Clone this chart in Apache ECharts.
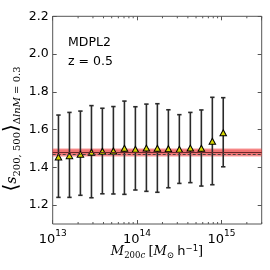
<!DOCTYPE html>
<html>
<head>
<meta charset="utf-8">
<script src="https://cdn.jsdelivr.net/npm/echarts@6/dist/echarts.min.js"></script>
<style>html,body{margin:0;padding:0;background:#fff}#c{width:270px;height:270px}</style>
</head>
<body>
<div id="c"></div>
<script>
// ---- data ----
const massBins = [1.17e13, 1.58e13, 2.13e13, 2.88e13, 3.88e13, 5.24e13, 7.08e13, 9.55e13,
                  1.29e14, 1.74e14, 2.35e14, 3.17e14, 4.28e14, 5.78e14, 7.80e14, 1.05e15];
const sMean = [1.455, 1.462, 1.469, 1.480, 1.485, 1.487, 1.501, 1.496,
               1.502, 1.501, 1.499, 1.496, 1.502, 1.501, 1.538, 1.583];
const sHigh = [1.677, 1.691, 1.698, 1.727, 1.713, 1.722, 1.751, 1.721,
               1.735, 1.737, 1.705, 1.679, 1.691, 1.704, 1.771, 1.769];
const sLow  = [1.241, 1.241, 1.252, 1.239, 1.260, 1.259, 1.257, 1.280,
               1.273, 1.268, 1.292, 1.315, 1.319, 1.301, 1.308, 1.403];
const bandOuter = [1.457, 1.500];
const bandInner = [1.464, 1.494];
const meanLine = 1.481;
const dashedLine = 1.468;
const yTicks = [1.2, 1.4, 1.6, 1.8, 2.0, 2.2];
const xMajorTicks = [1e13, 1e14, 1e15];
const xMin = 1e13, xMax = 3e15, yMin = 1.1, yMax = 2.2;
const minorTicks = [2e13,3e13,4e13,5e13,6e13,7e13,8e13,9e13,
                    2e14,3e14,4e14,5e14,6e14,7e14,8e14,9e14,
                    2e15,3e15];

const chart = echarts.init(document.getElementById('c'), null, {renderer: 'canvas'});
const frame = '#555';
const sans = 'DejaVu Sans';
const serif = 'DejaVu Serif';

const errData = massBins.map((m, i) => [m, sLow[i], sHigh[i]]);
const ptData = massBins.map((m, i) => [m, sMean[i]]);

const option = {
  animation: false,
  grid: {left: 52.7, top: 16.3, right: 8.3, bottom: 46, show: true, borderColor: frame, borderWidth: 1,
         backgroundColor: 'transparent', containLabel: false, outerBoundsMode: 'none'},
  xAxis: [
    {type: 'log', logBase: 10, min: xMin, max: xMax, position: 'bottom',
     axisLine: {show: false}, splitLine: {show: false},
     axisTick: {inside: true, length: 4, lineStyle: {color: frame}},
     axisLabel: {margin: 5, color: '#000', fontFamily: sans, showMaxLabel: false, showMinLabel: true,
       formatter: v => {
         const e = Math.log10(v);
         if (Math.abs(e - Math.round(e)) > 1e-6) return '';
         return '{b|10}{s|' + Math.round(e) + '}';
       },
       rich: {b: {fontSize: 13, fontFamily: sans, lineHeight: 17, verticalAlign: 'bottom', color: '#000'},
              s: {fontSize: 9, fontFamily: sans, lineHeight: 10, verticalAlign: 'top', color: '#000'}}}},
    {type: 'log', logBase: 10, min: xMin, max: xMax, position: 'top',
     axisLine: {show: false}, splitLine: {show: false}, axisLabel: {show: false},
     axisTick: {inside: true, length: 4, lineStyle: {color: frame}}}
  ],
  yAxis: [
    {type: 'value', min: yMin, max: yMax, position: 'left',
     axisLine: {show: false}, splitLine: {show: false},
     axisTick: {inside: true, length: 4, customValues: yTicks, lineStyle: {color: frame}},
     axisLabel: {customValues: yTicks, margin: 4, color: '#000', fontFamily: sans, fontSize: 12.5,
       formatter: v => v.toFixed(1)}},
    {type: 'value', min: yMin, max: yMax, position: 'right',
     axisLine: {show: false}, splitLine: {show: false}, axisLabel: {show: false},
     axisTick: {inside: true, length: 4, customValues: yTicks, lineStyle: {color: frame}}}
  ],
  series: [
    { // minor log ticks
      type: 'custom', silent: true, z: 5,
      data: minorTicks.map(v => [v]),
      renderItem: (params, api) => {
        const v = api.value(0);
        const b = api.coord([v, yMin]);
        const t = api.coord([v, yMax]);
        return {type: 'group', children: [
          {type: 'line', shape: {x1: b[0], y1: b[1], x2: b[0], y2: b[1] - 2}, style: {stroke: frame, lineWidth: 1}},
          {type: 'line', shape: {x1: t[0], y1: t[1], x2: t[0], y2: t[1] + 2}, style: {stroke: frame, lineWidth: 1}}
        ]};
      }
    },
    { // error bars
      type: 'custom', silent: true, z: 2,
      data: errData,
      renderItem: (params, api) => {
        const x = api.value(0);
        const lo = api.coord([x, api.value(1)]);
        const hi = api.coord([x, api.value(2)]);
        const cw = 2.2;
        const st = {stroke: '#2a2a2a', lineWidth: 1.6};
        return {type: 'group', children: [
          {type: 'line', shape: {x1: lo[0], y1: lo[1], x2: hi[0], y2: hi[1]}, style: st},
          {type: 'line', shape: {x1: lo[0] - cw, y1: lo[1], x2: lo[0] + cw, y2: lo[1]}, style: st},
          {type: 'line', shape: {x1: hi[0] - cw, y1: hi[1], x2: hi[0] + cw, y2: hi[1]}, style: st}
        ]};
      }
    },
    { // band + lines
      type: 'line', data: [], z: 3, silent: true,
      markArea: {silent: true, data: [
        [{yAxis: bandOuter[0], itemStyle: {color: 'rgba(240,70,70,0.55)'}}, {yAxis: bandOuter[1]}],
        [{yAxis: bandInner[0], itemStyle: {color: 'rgba(235,50,50,0.35)'}}, {yAxis: bandInner[1]}]
      ]},
      markLine: {silent: true, symbol: 'none', label: {show: false}, data: [
        {yAxis: meanLine, lineStyle: {color: '#6a2a2a', width: 1.2, type: 'solid'}},
        {yAxis: dashedLine, lineStyle: {color: '#444', width: 1, type: [3, 2]}}
      ]}
    },
    { // points
      type: 'scatter', z: 4, data: ptData, symbol: 'triangle', symbolSize: [6.5, 6],
      itemStyle: {color: '#d6d600', borderColor: '#000', borderWidth: 1, opacity: 1}
    }
  ],
  graphic: [
    {type: 'text', left: 68, top: 36, style: {text: 'MDPL2', fontFamily: sans, fontSize: 12.5, fill: '#000'}},
    {type: 'text', left: 68, top: 55, style: {text: 'z = 0.5', fontFamily: sans, fontSize: 12.5, fill: '#000'}},
    {type: 'text', x: 157, y: 252,
     style: {text: '{mi|M}{sub|200}{subi|c} {t|[}{mi|M}{sub|⊙} {h|h}{sup|−1}{t|]}',
       align: 'center', verticalAlign: 'middle',
       rich: {
         mi: {fontFamily: serif, fontStyle: 'italic', fontSize: 13, lineHeight: 16, verticalAlign: 'middle', fill: '#000'},
         t: {fontFamily: serif, fontSize: 13, lineHeight: 16, verticalAlign: 'middle', fill: '#000'},
         h: {fontFamily: sans, fontSize: 13, lineHeight: 16, verticalAlign: 'middle', fill: '#000'},
         sub: {fontFamily: serif, fontSize: 8.5, lineHeight: 9, verticalAlign: 'bottom', fill: '#000'},
         subi: {fontFamily: serif, fontStyle: 'italic', fontSize: 8.5, lineHeight: 9, verticalAlign: 'bottom', fill: '#000'},
         sup: {fontFamily: sans, fontSize: 8.5, lineHeight: 9, verticalAlign: 'top', fill: '#000'}
       }}},
    {type: 'text', x: 12, y: 129, rotation: Math.PI / 2,
     style: {text: '{br|⟨}{mi|s}{sub|200, 500}{br|⟩}{sub|Δ}{subi|lnM}{sub| = 0.3}',
       align: 'center', verticalAlign: 'middle',
       rich: {
         br: {fontFamily: serif, fontSize: 20, lineHeight: 20, verticalAlign: 'middle', fill: '#000'},
         mi: {fontFamily: serif, fontStyle: 'italic', fontSize: 14, lineHeight: 20, verticalAlign: 'middle', fill: '#000'},
         sub: {fontFamily: serif, fontSize: 10, lineHeight: 10, verticalAlign: 'bottom', fill: '#000'},
         subi: {fontFamily: serif, fontStyle: 'italic', fontSize: 10, lineHeight: 10, verticalAlign: 'bottom', fill: '#000'}
       }}}
  ]
};
chart.setOption(option);
</script>
</body>
</html>
